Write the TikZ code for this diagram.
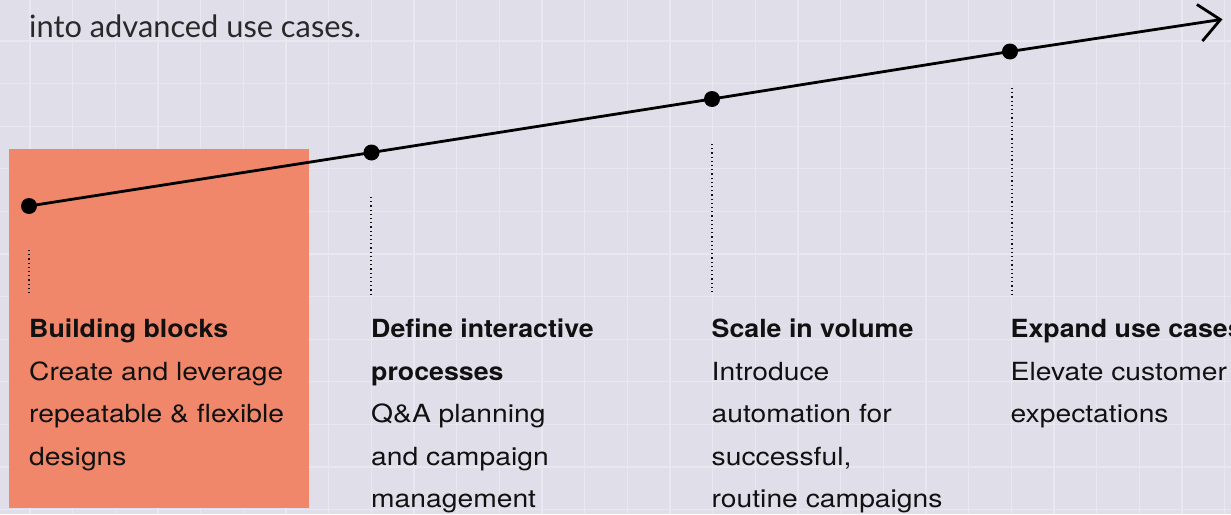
\documentclass[tikz,border=0pt]{standalone}
\usepackage{fontspec}
\setmainfont{TeX Gyre Heros}
\newfontfamily\bodyf{TeX Gyre Heros}[FakeStretch=1.13]
\newfontfamily\headf{TeX Gyre Heros}[FakeStretch=1.07]
\newfontfamily\topf{Lato}
\usetikzlibrary{arrows.meta}
\definecolor{bg}{HTML}{E0DEE9}
\definecolor{gridc}{HTML}{E9E7F0}
\definecolor{orangebox}{HTML}{F0876A}
\definecolor{ink}{HTML}{111111}
\tikzset{
 body/.style={anchor=base west, inner sep=0pt, text=ink, font=\bodyf\fontsize{25}{30}\selectfont},
 head/.style={anchor=base west, inner sep=0pt, text=ink, font=\headf\bfseries\fontsize{25}{30}\selectfont},
 intro/.style={anchor=base west, inner sep=0pt, text=ink!90, font=\topf\fontsize{30.8}{36}\selectfont},
 milestone/.style={circle, fill=black, inner sep=0pt, minimum size=16pt},
 guide/.style={draw=ink, line width=1.2pt, dash pattern=on 1.2pt off 3pt},
 timeline/.style={draw=black, line width=2.8pt, -{Straight Barb[length=21pt,width=37pt]}},
 gridline/.style={draw=gridc, line width=1.3pt},
}
\begin{document}
\begin{tikzpicture}[x=1pt,y=-1pt]
\useasboundingbox (0,0) rectangle (1231,514);
\clip (0,0) rectangle (1231,514);
\fill[bg] (0,0) rectangle (1231,514);
\foreach \k in {0,...,28} \draw[gridline] ({30+42.67*\k},0) -- ++(0,514);
\foreach \k in {0,...,12} \draw[gridline] (0,{-1.6+42.6*\k}) -- ++(1231,0);
\fill[orangebox] (9,149) rectangle (309,508);

\node[intro] (introtext) at (29,37.5) {into advanced use cases.};

% milestones
\node[milestone] (m1) at (29,206) {};
\node[milestone] (m2) at (371.5,152.5) {};
\node[milestone] (m3) at (712,99) {};
\node[milestone] (m4) at (1010,51.5) {};
\coordinate (tip) at (1222.5,19.3);
\draw[timeline] (m1.center) -- (m2.center) -- (m3.center) -- (m4.center) -- (tip);

% guides
\coordinate (g1a) at (29,250);   \coordinate (g1b) at (29,295);
\coordinate (g2a) at (371,197);  \coordinate (g2b) at (371,295);
\coordinate (g3a) at (712,144);  \coordinate (g3b) at (712,295);
\coordinate (g4a) at (1012,88);  \coordinate (g4b) at (1012,295);
\draw[guide] (g1a) -- (g1b);
\draw[guide] (g2a) -- (g2b);
\draw[guide] (g3a) -- (g3b);
\draw[guide] (g4a) -- (g4b);

% column 1
\node[head] (c1h) at (29,337.3) {Building blocks};
\node[body] (c1a) at (29,380) {Create and leverage};
\node[body] (c1b) at (29,422.5) {repeatable \& flexible};
\node[body] (c1c) at (29,465) {designs};
% column 2
\node[head] (c2h) at (371,337.3) {Define interactive};
\node[head] (c2i) at (371,380) {processes};
\node[body] (c2a) at (371,422.5) {Q\&A planning};
\node[body] (c2b) at (371,465) {and campaign};
\node[body] (c2c) at (371,507.8) {management};
% column 3
\node[head] (c3h) at (711.5,337.3) {Scale in volume};
\node[body] (c3a) at (711.5,380) {Introduce};
\node[body] (c3b) at (711.5,422.5) {automation for};
\node[body] (c3c) at (711.5,465) {successful,};
\node[body] (c3d) at (711.5,507.8) {routine campaigns};
% column 4 (cut by the right edge, as in the reference)
\node[head] (c4h) at (1010.5,337.3) {Expand use cases};
\node[body] (c4a) at (1010.5,380) {Elevate customer};
\node[body] (c4b) at (1010.5,422.5) {expectations};
\end{tikzpicture}
\end{document}
